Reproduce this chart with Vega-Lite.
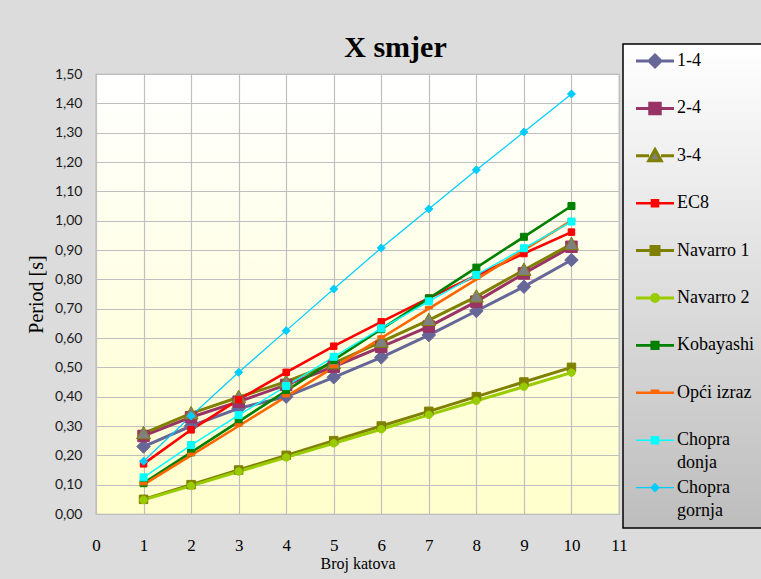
{
  "$schema": "https://vega.github.io/schema/vega-lite/v6.json",
  "width": 523,
  "height": 440,
  "autosize": "none",
  "padding": {"left": 96, "top": 74, "right": 142, "bottom": 65},
  "background": "#dcdcdc",
  "title": {"text": "X smjer", "font": "Liberation Serif", "fontSize": 30, "fontWeight": "bold", "color": "#000000", "anchor": "middle", "dx": 38, "offset": -20},
  "data": {"values": [
    {"series": "1-4", "floors": 1, "period": 0.23}, {"series": "1-4", "floors": 2, "period": 0.30}, {"series": "1-4", "floors": 3, "period": 0.36}, {"series": "1-4", "floors": 4, "period": 0.40}, {"series": "1-4", "floors": 5, "period": 0.466}, {"series": "1-4", "floors": 6, "period": 0.534}, {"series": "1-4", "floors": 7, "period": 0.61}, {"series": "1-4", "floors": 8, "period": 0.692}, {"series": "1-4", "floors": 9, "period": 0.775}, {"series": "1-4", "floors": 10, "period": 0.866},
    {"series": "2-4", "floors": 1, "period": 0.266}, {"series": "2-4", "floors": 2, "period": 0.33}, {"series": "2-4", "floors": 3, "period": 0.383}, {"series": "2-4", "floors": 4, "period": 0.44}, {"series": "2-4", "floors": 5, "period": 0.502}, {"series": "2-4", "floors": 6, "period": 0.57}, {"series": "2-4", "floors": 7, "period": 0.639}, {"series": "2-4", "floors": 8, "period": 0.724}, {"series": "2-4", "floors": 9, "period": 0.82}, {"series": "2-4", "floors": 10, "period": 0.911},
    {"series": "3-4", "floors": 1, "period": 0.275}, {"series": "3-4", "floors": 2, "period": 0.343}, {"series": "3-4", "floors": 3, "period": 0.398}, {"series": "3-4", "floors": 4, "period": 0.451}, {"series": "3-4", "floors": 5, "period": 0.514}, {"series": "3-4", "floors": 6, "period": 0.587}, {"series": "3-4", "floors": 7, "period": 0.661}, {"series": "3-4", "floors": 8, "period": 0.741}, {"series": "3-4", "floors": 9, "period": 0.832}, {"series": "3-4", "floors": 10, "period": 0.92},
    {"series": "EC8", "floors": 1, "period": 0.171}, {"series": "EC8", "floors": 2, "period": 0.287}, {"series": "EC8", "floors": 3, "period": 0.39}, {"series": "EC8", "floors": 4, "period": 0.483}, {"series": "EC8", "floors": 5, "period": 0.572}, {"series": "EC8", "floors": 6, "period": 0.655}, {"series": "EC8", "floors": 7, "period": 0.736}, {"series": "EC8", "floors": 8, "period": 0.813}, {"series": "EC8", "floors": 9, "period": 0.888}, {"series": "EC8", "floors": 10, "period": 0.961},
    {"series": "Navarro 1", "floors": 1, "period": 0.05}, {"series": "Navarro 1", "floors": 2, "period": 0.10}, {"series": "Navarro 1", "floors": 3, "period": 0.15}, {"series": "Navarro 1", "floors": 4, "period": 0.20}, {"series": "Navarro 1", "floors": 5, "period": 0.25}, {"series": "Navarro 1", "floors": 6, "period": 0.30}, {"series": "Navarro 1", "floors": 7, "period": 0.35}, {"series": "Navarro 1", "floors": 8, "period": 0.40}, {"series": "Navarro 1", "floors": 9, "period": 0.45}, {"series": "Navarro 1", "floors": 10, "period": 0.50},
    {"series": "Navarro 2", "floors": 1, "period": 0.048}, {"series": "Navarro 2", "floors": 2, "period": 0.096}, {"series": "Navarro 2", "floors": 3, "period": 0.145}, {"series": "Navarro 2", "floors": 4, "period": 0.193}, {"series": "Navarro 2", "floors": 5, "period": 0.241}, {"series": "Navarro 2", "floors": 6, "period": 0.289}, {"series": "Navarro 2", "floors": 7, "period": 0.338}, {"series": "Navarro 2", "floors": 8, "period": 0.386}, {"series": "Navarro 2", "floors": 9, "period": 0.434}, {"series": "Navarro 2", "floors": 10, "period": 0.482},
    {"series": "Kobayashi", "floors": 1, "period": 0.105}, {"series": "Kobayashi", "floors": 2, "period": 0.21}, {"series": "Kobayashi", "floors": 3, "period": 0.315}, {"series": "Kobayashi", "floors": 4, "period": 0.42}, {"series": "Kobayashi", "floors": 5, "period": 0.525}, {"series": "Kobayashi", "floors": 6, "period": 0.63}, {"series": "Kobayashi", "floors": 7, "period": 0.735}, {"series": "Kobayashi", "floors": 8, "period": 0.84}, {"series": "Kobayashi", "floors": 9, "period": 0.945}, {"series": "Kobayashi", "floors": 10, "period": 1.05},
    {"series": "Opći izraz", "floors": 1, "period": 0.10}, {"series": "Opći izraz", "floors": 2, "period": 0.20}, {"series": "Opći izraz", "floors": 3, "period": 0.30}, {"series": "Opći izraz", "floors": 4, "period": 0.40}, {"series": "Opći izraz", "floors": 5, "period": 0.50}, {"series": "Opći izraz", "floors": 6, "period": 0.60}, {"series": "Opći izraz", "floors": 7, "period": 0.70}, {"series": "Opći izraz", "floors": 8, "period": 0.80}, {"series": "Opći izraz", "floors": 9, "period": 0.90}, {"series": "Opći izraz", "floors": 10, "period": 1.00},
    {"series": "Chopra donja", "floors": 1, "period": 0.125}, {"series": "Chopra donja", "floors": 2, "period": 0.235}, {"series": "Chopra donja", "floors": 3, "period": 0.337}, {"series": "Chopra donja", "floors": 4, "period": 0.436}, {"series": "Chopra donja", "floors": 5, "period": 0.536}, {"series": "Chopra donja", "floors": 6, "period": 0.633}, {"series": "Chopra donja", "floors": 7, "period": 0.725}, {"series": "Chopra donja", "floors": 8, "period": 0.815}, {"series": "Chopra donja", "floors": 9, "period": 0.906}, {"series": "Chopra donja", "floors": 10, "period": 0.997},
    {"series": "Chopra gornja", "floors": 1, "period": 0.18}, {"series": "Chopra gornja", "floors": 2, "period": 0.334}, {"series": "Chopra gornja", "floors": 3, "period": 0.483}, {"series": "Chopra gornja", "floors": 4, "period": 0.625}, {"series": "Chopra gornja", "floors": 5, "period": 0.767}, {"series": "Chopra gornja", "floors": 6, "period": 0.907}, {"series": "Chopra gornja", "floors": 7, "period": 1.04}, {"series": "Chopra gornja", "floors": 8, "period": 1.173}, {"series": "Chopra gornja", "floors": 9, "period": 1.302}, {"series": "Chopra gornja", "floors": 10, "period": 1.432}
  ]},
  "encoding": {
    "x": {"field": "floors", "type": "quantitative", "title": "Broj katova",
      "scale": {"domain": [0, 11], "nice": false, "zero": false},
      "axis": {"values": [0,1,2,3,4,5,6,7,8,9,10,11], "format": "d", "ticks": false, "domain": false, "grid": true, "gridColor": "#bfbfbf", "gridWidth": 1.2,
        "labelFont": "Liberation Serif", "labelFontSize": 17, "labelColor": "#000000", "labelPadding": 23, "labelFlush": false,
        "titleFont": "Liberation Serif", "titleFontSize": 16, "titleFontWeight": "normal", "titleColor": "#000000", "titlePadding": 2}},
    "y": {"field": "period", "type": "quantitative", "title": "Period [s]",
      "scale": {"domain": [0, 1.5], "nice": false},
      "axis": {"values": [0,0.1,0.2,0.3,0.4,0.5,0.6,0.7,0.8,0.9,1.0,1.1,1.2,1.3,1.4,1.5],
        "labelExpr": "replace(format(datum.value, '.2f'), '.', ',')",
        "ticks": false, "domain": false, "grid": true, "gridColor": "#bfbfbf", "gridWidth": 1.2,
        "labelFont": "Lato", "labelFontSize": 14, "labelColor": "#1a1a1a", "labelPadding": 14,
        "titleFont": "Liberation Serif", "titleFontSize": 20, "titleFontWeight": "normal", "titleColor": "#000000", "titlePadding": 8}},
    "stroke": {"field": "series", "type": "nominal",
      "scale": {"domain": ["1-4","2-4","3-4","EC8","Navarro 1","Navarro 2","Kobayashi","Opći izraz","Chopra donja","Chopra gornja"],
                "range": ["#666699","#993366","#808000","#ff0000","#808000","#99cc00","#008000","#ff6600","#00ffff","#00ccff"]},
      "legend": {"title": null, "orient": "none", "legendX": 527, "legendY": -30, "direction": "vertical",
        "padding": 8, "strokeColor": "#000000",
        "labelFont": "Liberation Serif", "labelFontSize": 18, "labelColor": "#000000", "labelLimit": 300,
        "symbolSize": 100, "symbolOffset": 15, "labelOffset": 13, "rowPadding": 2.4, "gridAlign": "all",
        "labelExpr": "datum.label == 'Chopra donja' ? ['Chopra', 'donja'] : datum.label == 'Chopra gornja' ? ['Chopra', 'gornja'] : datum.label",
        "encode": {
          "legend": {"update": {"fill": {"value": {"gradient": "linear", "x1": 0, "y1": 0, "x2": 0, "y2": 1, "stops": [{"offset": 0, "color": "#ffffff"}, {"offset": 1, "color": "#bdbdbd"}]}}, "strokeWidth": {"value": 1.5}}},
          "labels": {"update": {"lineHeight": {"value": 23}}},
          "symbols": {"update": {
            "shape": {"signal": "{'1-4': 'M-3.8,0H-1.4M1.4,0H3.8M0,-1.2L1.2,0L0,1.2L-1.2,0Z', '2-4': 'M-3.8,0H-1.1M1.1,0H3.8M-1.05,-1.05H1.05V1.05H-1.05Z', '3-4': 'M-3.8,0H-1.2M1.2,0H3.8M0,-1.25L1.25,1H-1.25Z', 'EC8': 'M-3.8,0H3.8M-0.6,-0.6H0.6V0.6H-0.6Z', 'Navarro 1': 'M-3.8,0H3.8M-0.8,-0.8H0.8V0.8H-0.8Z', 'Navarro 2': 'M-3.8,0H3.8M-0.7,0A0.7,0.7,0,1,0,0.7,0A0.7,0.7,0,1,0,-0.7,0Z', 'Kobayashi': 'M-3.8,0H3.8M-0.65,-0.65H0.65V0.65H-0.65Z', 'Opći izraz': 'M-3.8,0H3.8M-0.6,-0.4H0.6V0H-0.6Z', 'Chopra donja': 'M-3.8,0H3.8M-0.7,-0.7H0.7V0.7H-0.7Z', 'Chopra gornja': 'M-3.8,0H3.8M0,-0.8L0.8,0L0,0.8L-0.8,0Z'}[datum.value]"},
            "fill": {"scale": "fill", "field": "value"},
            "strokeWidth": {"signal": "indexof(datum.value, 'Chopra') == 0 ? 1.5 : 2.5"},
            "opacity": {"value": 1}
          }}
        }
      }
    }
  },
  "layer": [
    {
      "mark": {"type": "line", "interpolate": "linear"},
      "encoding": {
        "strokeWidth": {"field": "series", "type": "nominal", "legend": null,
          "scale": {"type": "ordinal", "domain": ["1-4","2-4","3-4","EC8","Navarro 1","Navarro 2","Kobayashi","Opći izraz","Chopra donja","Chopra gornja"],
                    "range": [3, 3, 3, 2.6, 3, 3, 2.6, 2.6, 1.5, 1.2]}}
      }
    },
    {
      "mark": {"type": "point", "filled": true, "opacity": 1, "size": 100, "strokeWidth": 1},
      "encoding": {
        "fill": {"field": "series", "type": "nominal", "legend": null,
          "scale": {"range": ["#666699","#993366","#808080","#00ffff","#00ccff","#ff0000","#008000","#808000","#99cc00","#ff6600"]}},
        "shape": {"field": "series", "type": "nominal", "legend": null,
          "scale": {"range": ["M0,-1.35L1.35,0L0,1.35L-1.35,0Z", "M-1.15,-1.15H1.15V1.15H-1.15Z", "M0,-1.4L1.4,1.1H-1.4Z", "M-0.7,-0.7H0.7V0.7H-0.7Z", "M0,-0.8L0.8,0L0,0.8L-0.8,0Z", "M-0.65,-0.65H0.65V0.65H-0.65Z", "M-0.7,-0.7H0.7V0.7H-0.7Z", "M-0.85,-0.85H0.85V0.85H-0.85Z", "M-0.75,0A0.75,0.75,0,1,0,0.75,0A0.75,0.75,0,1,0,-0.75,0Z", "M-0.7,-0.45H0.7V0.05H-0.7Z"]}}
      }
    }
  ],
  "config": {
    "view": {"fill": {"gradient": "linear", "x1": 0, "y1": 0, "x2": 0, "y2": 1, "stops": [{"offset": 0, "color": "#ffffff"}, {"offset": 1, "color": "#ffffcc"}]}, "stroke": "#a6a6a6", "strokeWidth": 1.2}
  }
}
